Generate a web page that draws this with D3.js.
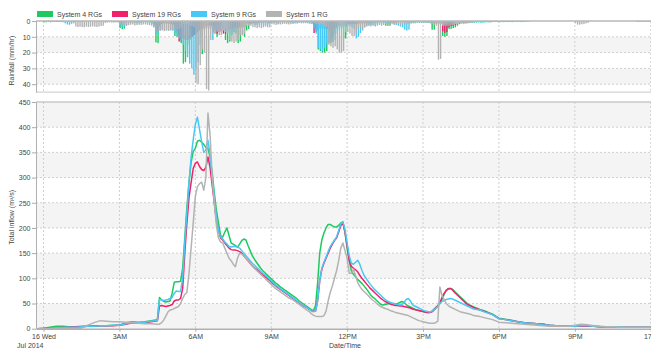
<!DOCTYPE html>
<html>
<head>
<meta charset="utf-8">
<script src="https://cdn.jsdelivr.net/npm/d3@7"></script>
<style>
  body { margin: 0; background: #fff; }
  svg { display: block; font-family: Arial, "Liberation Sans", sans-serif; }
</style>
</head>
<body>
<svg id="chart" width="651" height="350"></svg>
<script>
// ---- series ----
const seriesNames = ["System 4 RGs", "System 19 RGs", "System 9 RGs", "System 1 RG"];
const seriesColors = ["#1ec95f", "#f0216a", "#48c8f5", "#b3b3b3"];

// ---- x axis ticks (minutes from midnight, 16 Jul 2014) ----
const tickMinutes = [0, 180, 360, 540, 720, 900, 1080, 1260, 1440];
const tickLabels = ["16 Wed", "3AM", "6AM", "9AM", "12PM", "3PM", "6PM", "9PM", "17"];
const flowTicks = [0, 50, 100, 150, 200, 250, 300, 350, 400, 450];
const rainTicks = [0, 10, 20, 30, 40];

// ---- flow sample times (minutes): 15-min, then 5-min through the storms, then 15-min ----
const flowMinutes = [-15].concat(d3.range(0, 271, 15), d3.range(275, 1021, 5), d3.range(1035, 1441, 15));

// ---- total inflow (m3/s) ----
const flowSys4 = [
  0,1,3,5,5,4,4,5,5,6,6,6,7,7,12,14,13,14,16,18,
  62,57,54,53,54,55,70,92,93,93,94,120,
  180,240,290,330,352,358,372,374,370,366,360,358,
  340,310,270,235,210,185,182,192,200,185,170,168,
  165,162,168,175,178,176,165,155,145,138,132,126,
  120,115,111,107,103,99,95,91,88,84,81,78,
  75,72,69,66,63,60,56,53,50,47,44,41,
  38,36,45,90,150,176,190,200,207,207,204,202,
  202,205,210,212,190,160,135,115,108,103,98,94,
  90,85,80,74,68,63,60,56,52,48,47,48,
  49,50,50,50,49,50,52,54,52,48,45,43,
  41,39,37,36,35,34,33,32,32,34,38,42,
  46,50,58,68,76,80,80,78,74,70,66,62,
  58,54,50,47,45,43,
  38,34,29,21,19,17,14,12,11,10,9,7,6,5,5,5,5,5,5,4,4,4,4,3,3,3,3,3
];
const flowSys19 = [
  0,0.5,1,2,2.5,3,4,4,5,5,6,6,6,7,9,12,11,12,14,16,
  45,46,45,44,45,46,48,55,57,57,60,80,
  150,210,260,290,318,328,331,322,316,314,320,341,
  320,285,250,215,195,180,176,170,165,160,157,156,
  156,155,153,150,145,140,135,130,125,121,118,114,
  110,107,104,100,97,93,89,86,82,79,76,73,
  70,67,64,61,58,55,52,49,46,44,42,39,
  36,34,35,55,95,118,130,140,150,160,168,175,
  180,192,205,210,192,165,135,124,120,117,113,106,
  100,95,90,85,80,76,72,68,64,60,57,54,
  52,50,48,47,46,46,45,45,44,43,42,41,
  39,38,37,36,35,34,33,32,32,33,36,40,
  45,52,62,70,76,79,80,77,72,68,64,60,
  56,52,48,46,44,42,
  37,33,28,20,18,16,14,12,11,10,9,7,6,5,5,5,5,5,5,4,4,4,4,3,3,3,3,3
];
const flowSys9 = [
  0,0.5,1,2,2.5,3,3,4,5,5,6,6,7,7,10,13,12,13,15,17,
  58,57,56,57,58,60,62,70,75,74,74,100,
  170,230,290,340,375,405,420,395,372,350,355,374,
  345,300,260,220,195,182,178,172,168,163,162,163,
  163,162,160,155,150,145,140,135,130,126,122,118,
  114,110,107,103,99,95,91,87,84,80,77,74,
  71,68,65,62,59,56,53,50,47,45,42,39,
  36,34,35,55,95,120,132,142,153,163,170,176,
  182,195,208,212,196,170,145,130,128,132,136,128,
  116,106,100,94,88,83,78,74,70,66,62,58,
  55,53,51,50,49,48,47,48,52,58,60,55,
  48,45,43,41,39,37,35,34,33,34,37,40,
  44,50,54,56,58,59,60,59,57,55,53,51,
  49,47,45,43,41,39,
  37,32,28,20,18,16,14,12,11,10,8,7,6,5,5,5,6,6,5,4,4,4,4,3,3,3,3,3
];
const flowSys1 = [
  0,0,0,0,0,0,0,1,7,12,16,15,14,14,13,12,11,10,10,9,
  9,12,17,25,33,37,38,40,42,44,50,60,
  68,72,110,160,210,262,282,288,291,275,300,428,
  385,300,250,205,180,172,170,160,150,140,135,128,
  123,140,150,148,145,140,135,130,125,120,116,112,
  108,104,100,96,92,88,84,80,77,74,71,68,
  65,62,60,58,55,52,49,46,43,40,37,34,
  30,27,25,24,24,24,26,35,55,72,85,100,
  115,135,160,170,155,140,110,110,118,105,92,84,
  78,74,70,66,61,57,54,50,47,44,42,40,
  39,37,35,34,32,31,30,29,28,27,26,24,
  22,20,18,16,15,14,13,12,11,11,11,12,
  15,83,66,58,50,46,43,41,39,37,35,33,
  32,31,30,29,28,26,
  24,21,18,13,12,11,10,9,8,7,6,5,5,5,5,7,9,8,6,5,4,4,3,3,3,3,3,3
];

// ---- rainfall (mm/hr), one value per 5 minutes, one row per hour ----
const rainMinutes = d3.range(0, 1440, 5);
const rainSys4 = [
  0.8,0.8,0.6,0.8,0.6,0.5,0.6,0.5,0.4,0.5,0.4,0.3,
  0.3,0.2,0.2,0.2,0.1,0.1,0.1,0.1,0.1,0.1,0.1,0.1,
  0.2,0.2,0.2,0.2,0.2,0.2,0.2,0.2,0.2,0.2,0.2,0.2,
  4.5,5.2,4.8,3,1,0.8,0.6,0.5,0.5,0.6,0.5,0.5,
  0.6,0.8,1,1.5,3,13.5,14,4,2,1.5,1.5,1.8,
  2,2.5,9.5,10,9,14,27,26,15,12,10,9,
  8,7,6,21,5,4,3,3,3,4,10,5,
  6,6,12,14,13,9,7,8,14,13,9,10,
  6,5,2,1.5,1,1.5,1,1.2,1,1,1.5,1,
  0.8,0.6,0.5,0.8,0.6,0.5,0.5,0.6,0.5,0.5,0.6,0.5,
  0.6,0.5,0.5,0.6,0.5,0.5,0.6,0.8,2,5,18,19,
  20,20,19,14,14,13,8,5,4,4,11,11,
  2,2,2,2,2,2,1.5,1.5,1.5,1.5,1.5,1.5,
  1,1,1,1,1,1,3,3,3,1,1,1,
  1,1,1,1,1,1,0.8,1,1.2,1,0.8,1,
  1,1,1,1,5.5,5.5,2,2,2,9.5,10,9.5,
  5,5,4.5,4,3,2,1.5,1,1,1,1,1,
  1,0.8,0.8,1,0.8,0.8,0.7,0.8,0.7,0.6,0.6,0.6,
  0.6,0.5,0.6,0.5,0.6,0.5,0.5,0.6,0.5,0.4,0.5,0.5,
  0.4,0.3,0.2,0,0,0,0,0,0,0,0,0,
  0,0,0,0,0,0,0,0,0,0,0,0,
  0,0,0,0,0,0,0,0,0,0,0,0,
  0,0,0,0,0,0,0,0,0,0,0,0,
  0,0,0,0,0,0.5,0.5,0.5,0.5,0.5,0.5,0.5
];
const rainSys19 = [
  0.2,0.3,0.2,0.3,0.2,0.2,0.3,0.3,0.3,0.4,0.5,0.6,
  0.4,0.3,0.2,0.2,0.1,0.1,0.1,0.1,0.1,0.1,0.1,0.1,
  0.1,0.1,0.1,0.1,0.1,0.2,0.2,0.2,0.2,0.2,0.2,0.2,
  1,1.5,1.2,0.6,0.4,0.4,0.4,0.4,0.4,0.4,0.4,0.4,
  0.4,0.5,0.6,1,2,6,6.5,3,2,1.6,1.6,1.8,
  2,2.2,5,6,13,12.5,11,12,12,11,10,9,
  8,7,6,5,4,3,3,3,7,6,8,7,
  7,8,8,6,5,5,4,4,4,4,4,4,
  1.5,1.5,1,1,1,1,1,1,1,1,1,1,
  0.5,0.5,0.5,0.5,0.5,0.5,0.5,0.5,0.5,0.5,0.5,0.5,
  0.5,0.5,0.5,0.5,0.5,0.5,0.6,1,7.6,7,6,5,
  5,5,5,6,12,10,5,4,3,3,3,3,
  1.5,1.5,1.5,1.5,2,2,1.5,1.5,1,1,1,1,
  0.8,0.8,0.8,0.8,0.8,0.8,0.8,0.8,0.8,0.8,0.8,0.8,
  0.6,0.6,0.6,0.6,0.6,0.6,0.6,0.6,0.6,0.6,0.6,0.6,
  0.6,0.6,0.6,0.6,1,1,1,1,1.5,6.5,7.5,7,
  4,3,3,2.5,2,1.5,1,1,0.8,0.8,0.8,0.8,
  0.5,0.5,0.5,0.5,0.5,0.5,0.5,0.5,0.5,0.5,0.5,0.5,
  0.4,0.5,0.5,0.6,0.4,0.5,0.4,0.4,0.6,0.4,0.3,0.3,
  0.2,0.1,0,0,0,0,0,0,0,0,0,0,
  0,0,0,0,0,0,0,0,0,0,0,0,
  0,0,0,0,0,0,0,0,0,0,0,0,
  0,0,0,0,0,0,0,0,0,0,0,0,
  0,0,0,0,0,0,0,0,0,0,0,0
];
const rainSys9 = [
  0.3,0.3,0.2,0.4,0.3,0.3,0.4,0.5,0.6,0.8,1.5,2.2,
  2.4,1.8,1,0.5,0.4,0.3,0.3,0.2,0.2,0.3,0.2,0.2,
  0.2,0.2,0.2,0.1,0.1,0.3,0.4,0.3,0.3,0.4,0.5,0.6,
  3,3.8,3.5,2.5,1.5,1.2,1,1.2,1.5,1.3,1.2,1,
  1,1.2,1.5,2,4,7.6,7.8,6,5.5,5.8,5.6,5.8,
  5.8,6,8,8.2,11,12.5,15,19,23,27,30,34,
  30,26,15,10,6,5,5,5,12,8,7,5,
  5,6,7,8,9,8,7,6,5,4,4,4,
  2,2,1.5,1.5,2.5,2.5,2,1.5,2.5,2.5,2,1.5,
  1,1.2,1,2,1.5,1,1,1.2,1,1,1.5,1.2,
  1.5,1.2,1,1.4,1.2,1.5,1.8,2,4.8,8,17,18,
  19,17,15,14,13,13,12,8,6,5,4,4,
  3,3,4,5,11,10,7.6,6,4,3,3,2.5,
  2.5,3,2,1.5,1.5,1.5,1,1.5,1.5,1,2,2.5,
  3,3.5,4,5.5,6,5.5,1.5,1,1,0.8,0.8,1,
  1,1,1,1,2,1.5,1.5,1.5,1.5,2,2,2,
  1.5,1.5,1.5,1.2,1.2,1,1,1,0.8,0.8,0.8,0.8,
  1,1,0.8,0.8,1,0.8,0.8,0.8,0.8,0.6,0.6,0.6,
  0.8,0.7,0.8,0.6,0.7,0.6,0.8,0.6,0.5,0.6,0.7,0.6,
  0.4,0.3,0.2,0,0,0,0,0,0,0,0,0,
  0,0,0,0,0,0,0,0,0,0,0,0,
  0,0,0,0,0,0,0,0,0,0,0,0,
  0,0,0,0,0,0,0,0,0,0,0,0,
  0,0,0,0,0,0,0,0,0,0,0,0
];
const rainSys1 = [
  0,0,0,0,0,0,0,0,0,0.3,0.5,0.5,
  0.8,1,1.5,3.5,3.8,3.6,3.8,4,3.5,3.8,3.6,3.4,
  3.6,3.8,3.5,3.2,3,1.2,1,0.8,1,1.1,0.9,1,
  2,2.4,2.2,2.5,2.6,2.4,2.2,2.8,2.6,2.4,2.5,2.2,
  2.2,2.4,2.6,3,4,6.3,6.5,6.2,6,6.4,6.1,6.3,
  6,6,5.5,5.5,5,4,2,2,2,2.5,3,4,
  39,40,28,18,20,43,44,12,8,8,6,9,
  9,6,5,8,12,13,14,13,12,9,9,8,
  3,3,3,4,4,4.5,4,4.5,4,3.5,4,4,
  2,2.2,2.5,2,2.2,2,1.8,2,2.2,2,1.8,1.6,
  1.5,1.2,1.5,1.2,1.4,1.2,1,1.3,1.5,2,2,2,
  2,3,4,15,16,17,16,18,20,20,19,7,
  7,8,9.5,9.5,8,5,4,5,4,3.5,3,3.5,
  3,3.5,3,2.5,3,2.5,2,2.5,2.5,2,2.5,2,
  2,2.5,2,2.2,2,1.8,1.5,1.5,1.5,1.2,1.3,1.2,
  1.2,1,1.2,1.5,2,2.5,3,24.5,24,3,3,3,
  3,2.5,2.5,2,2,1.5,1.5,2,1.8,1.5,1.2,1,
  0.6,0.5,0.5,0.5,0.4,0.4,0.4,0.4,0.3,0.3,0.3,0.3,
  0.2,0.2,0.2,0.2,0.2,0.2,0.2,0.2,0.2,0.2,0.2,0.2,
  0.2,0.2,0.1,0,0,0,0,0,0,0,0,0,
  0,0,0,0,0,0,0,0,0,0,0,0,
  1.5,2.3,2.3,2,2,1.5,1.2,0,0,0,0,0,
  0,0,0,0,0,0,0,0,0,0,0,0,
  0,0,0,0,0,0,0,0,0,0,0,0
];

const flowSeries = [flowSys4, flowSys19, flowSys9, flowSys1];
const rainSeries = [rainSys4, rainSys19, rainSys9, rainSys1];

// ---- layout ----
const svg = d3.select("#chart");
const plotLeft = 36, plotRight = 652;
const rainTop = 21, rainBottom = 92.1;
const flowTop = 102, flowBottom = 328.7;
const gridColor = "#cfcfcf", bandColor = "#f4f4f4", textColor = "#444";

const day0 = new Date(2014, 6, 16);
const at = m => new Date(day0.getTime() + m * 60000);

const x = d3.scaleTime().domain([at(-17.8), at(1443)]).range([plotLeft, plotRight]);
const yRain = d3.scaleLinear().domain([0, 45]).range([rainTop, rainBottom]);
const yFlow = d3.scaleLinear().domain([0, 450]).range([flowBottom, flowTop]);
const tickDates = tickMinutes.map(at);

// ---- legend ----
const legendX = [37, 112, 191, 266];
const legend = svg.append("g");
seriesNames.forEach((name, k) => {
  legend.append("rect").attr("x", legendX[k]).attr("y", 11).attr("width", 16).attr("height", 6)
    .attr("fill", seriesColors[k]);
  legend.append("text").attr("x", legendX[k] + 20).attr("y", 16.5)
    .attr("font-size", 7).attr("fill", textColor).text(name);
});

// ---- background bands ----
function bands(g, scale, edges) {
  for (let k = 0; k + 1 < edges.length; k += 2) {
    const a = scale(edges[k]), b = scale(edges[k + 1]);
    g.append("rect").attr("x", plotLeft).attr("width", plotRight - plotLeft)
      .attr("y", Math.min(a, b)).attr("height", Math.abs(b - a)).attr("fill", bandColor);
  }
}
const back = svg.append("g");
bands(back, yRain, [10, 20, 30, 40]);
bands(back, yFlow, [0, 50, 100, 150, 200, 250, 300, 350, 400, 450]);

// ---- dotted grid ----
const grid = svg.append("g").attr("stroke", gridColor).attr("stroke-dasharray", "2,2").attr("stroke-width", 1);
tickDates.forEach(d => {
  grid.append("line").attr("x1", x(d)).attr("x2", x(d)).attr("y1", rainTop).attr("y2", rainBottom);
  grid.append("line").attr("x1", x(d)).attr("x2", x(d)).attr("y1", flowTop).attr("y2", flowBottom);
});
rainTicks.slice(1).forEach(v => {
  grid.append("line").attr("x1", plotLeft).attr("x2", plotRight).attr("y1", yRain(v)).attr("y2", yRain(v));
});
flowTicks.slice(1, -1).forEach(v => {
  grid.append("line").attr("x1", plotLeft).attr("x2", plotRight).attr("y1", yFlow(v)).attr("y2", yFlow(v));
});

// ---- rainfall bars, hanging from the top; later series drawn over earlier ones ----
const barW = 1.4;
const rainG = svg.append("g");
rainSeries.forEach((s, k) => {
  const pts = rainMinutes.map((m, i) => ({ m, v: s[i] })).filter(d => d.v > 0);
  rainG.append("g").selectAll("rect").data(pts).join("rect")
    .attr("x", d => x(at(d.m)))
    .attr("y", yRain(0))
    .attr("width", barW)
    .attr("height", d => yRain(d.v) - yRain(0))
    .attr("fill", seriesColors[k]);
});

// ---- flow lines ----
const line = d3.line().x(d => x(at(d.m))).y(d => yFlow(d.v));
const lineG = svg.append("g").attr("fill", "none").attr("stroke-width", 1.5).attr("stroke-linejoin", "round");
flowSeries.forEach((s, k) => {
  const pts = flowMinutes.map((m, i) => ({ m, v: s[i] }));
  lineG.append("path").attr("d", line(pts)).attr("stroke", seriesColors[k]);
});

// ---- frames ----
const frame = svg.append("g").attr("fill", "none");
frame.append("line").attr("x1", plotLeft).attr("x2", plotRight).attr("y1", rainTop).attr("y2", rainTop)
  .attr("stroke", "#b8b8b8").attr("stroke-width", 1.5);
frame.append("line").attr("x1", plotLeft).attr("x2", plotRight).attr("y1", rainBottom).attr("y2", rainBottom)
  .attr("stroke", "#c8c8c8").attr("stroke-width", 1);
frame.append("line").attr("x1", plotLeft).attr("x2", plotRight).attr("y1", flowTop).attr("y2", flowTop)
  .attr("stroke", "#c8c8c8").attr("stroke-width", 1.5);

// ---- axes ----
function styleAxis(g) {
  g.selectAll("text").attr("font-size", 7).attr("fill", textColor).attr("font-family", "Arial, 'Liberation Sans', sans-serif");
  g.selectAll("line").attr("stroke", "#aaa");
  g.select(".domain").attr("stroke", "#b0b0b0");
}
svg.append("g").attr("transform", `translate(${plotLeft},0)`)
  .call(d3.axisLeft(yRain).tickValues(rainTicks).tickSize(4).tickPadding(1.5).tickSizeOuter(0))
  .call(styleAxis);
svg.append("g").attr("transform", `translate(${plotLeft},0)`)
  .call(d3.axisLeft(yFlow).tickValues(flowTicks).tickSize(4).tickPadding(1.5).tickSizeOuter(0))
  .call(styleAxis);
svg.append("g").attr("transform", `translate(0,${flowBottom})`)
  .call(d3.axisBottom(x).tickValues(tickDates).tickFormat((d, i) => tickLabels[i]).tickSize(3).tickPadding(2.5).tickSizeOuter(0))
  .call(styleAxis)
  .call(g => g.select(".domain").attr("stroke-width", 1.5))
  // the midnight label at the far right edge is kept inside the page
  .call(g => g.selectAll(".tick text").filter((d, i) => i === tickLabels.length - 1)
    .attr("text-anchor", "end").attr("dx", 0.5));

// ---- titles ----
svg.append("text").attr("x", 17).attr("y", 348).attr("font-size", 7).attr("fill", textColor).text("Jul 2014");
svg.append("text").attr("x", 345).attr("y", 348).attr("text-anchor", "middle")
  .attr("font-size", 7).attr("fill", textColor).text("Date/Time");
svg.append("text").attr("transform", `translate(13.5,${(rainTop + rainBottom) / 2 + 4}) rotate(-90)`)
  .attr("text-anchor", "middle").attr("font-size", 7).attr("fill", textColor).text("Rainfall (mm/hr)");
svg.append("text").attr("transform", `translate(13.5,${(flowTop + flowBottom) / 2 + 2}) rotate(-90)`)
  .attr("text-anchor", "middle").attr("font-size", 7).attr("fill", textColor).text("Total inflow (m³/s)");
</script>
</body>
</html>
